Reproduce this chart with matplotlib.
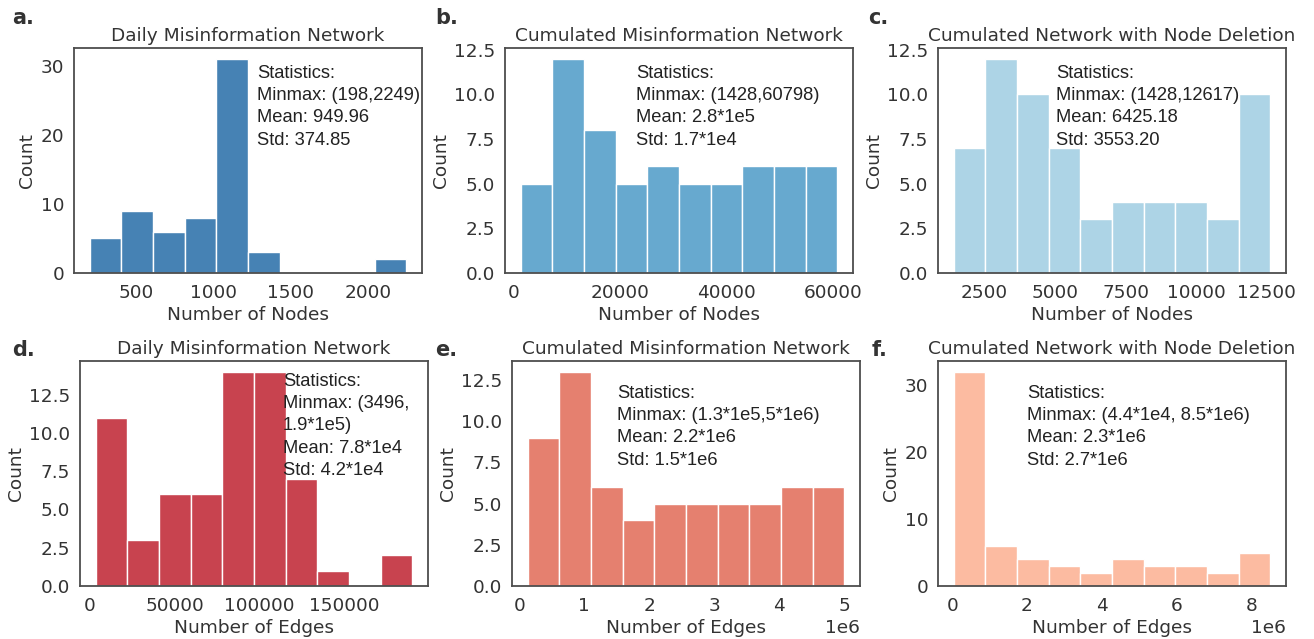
import numpy as np
import matplotlib.pyplot as plt

# histogram counts (10 equal-width bins between min and max)
nodes_daily = [5, 9, 6, 8, 31, 3, 0, 0, 0, 2]
nodes_cum = [5, 12, 8, 5, 6, 5, 5, 6, 6, 6]
nodes_del = [7, 12, 10, 7, 3, 4, 4, 4, 3, 10]
edges_daily = [11, 3, 6, 6, 14, 14, 7, 1, 0, 2]
edges_cum = [9, 13, 6, 4, 5, 5, 5, 5, 6, 6]
edges_del = [32, 6, 4, 3, 2, 4, 3, 3, 2, 5]

ranges = [(198, 2249), (1428, 60798), (1428, 12617),
          (3496, 190000), (1.3e5, 5e6), (4.4e4, 8.5e6)]

titles = ['Daily Misinformation Network', 'Cumulated Misinformation Network',
          'Cumulated Network with Node Deletion'] * 2
xlabels = ['Number of Nodes'] * 3 + ['Number of Edges'] * 3
stats = [
    'Statistics:\nMinmax: (198,2249)\nMean: 949.96\nStd: 374.85',
    'Statistics:\nMinmax: (1428,60798)\nMean: 2.8*1e5\nStd: 1.7*1e4',
    'Statistics:\nMinmax: (1428,12617)\nMean: 6425.18\nStd: 3553.20',
    'Statistics:\nMinmax: (3496,\n1.9*1e5)\nMean: 7.8*1e4\nStd: 4.2*1e4',
    'Statistics:\nMinmax: (1.3*1e5,5*1e6)\nMean: 2.2*1e6\nStd: 1.5*1e6',
    'Statistics:\nMinmax: (4.4*1e4, 8.5*1e6)\nMean: 2.3*1e6\nStd: 2.7*1e6',
]
panel = ['a.', 'b.', 'c.', 'd.', 'e.', 'f.']
colors = ['#4682b4', '#67a9cf', '#add4e6', '#c8434f', '#e5806f', '#fcbba1']
stat_pos = [(0.526, 0.924), (0.376, 0.924), (0.339, 0.924),
            (0.583, 0.947), (0.302, 0.893), (0.256, 0.893)]
counts = [nodes_daily, nodes_cum, nodes_del, edges_daily, edges_cum, edges_del]

# axes boxes in pixels: left, top
W, H = 1314, 639
boxes = [(74, 48), (505, 48), (938, 48), (80, 361), (512, 361), (938, 361)]
label_pos = [(12, 18), (435, 18), (868, 18), (12, 350), (435, 350), (872, 350)]

plt.rcParams['font.family'] = 'DejaVu Sans'
fig = plt.figure(figsize=(W / 100, H / 100), dpi=100)

fs = 13.3
for i in range(6):
    l, t = boxes[i]
    ax = fig.add_axes([l / W, 1 - (t + 225) / H, 348 / W, 225 / H])
    lo, hi = ranges[i]
    bins = np.linspace(lo, hi, 11)
    ax.hist(bins[:-1], bins=bins, weights=counts[i], color=colors[i],
            edgecolor='white', linewidth=1)
    ax.set_title(titles[i], fontsize=fs, color='#333333', pad=5)
    ax.set_xlabel(xlabels[i], fontsize=fs, color='#333333', labelpad=3)
    ax.set_ylabel('Count', fontsize=fs, color='#333333', labelpad=3)
    ax.tick_params(axis='x', length=0, labelsize=fs, labelcolor='#333333', pad=8)
    ax.tick_params(axis='y', length=0, labelsize=fs, labelcolor='#333333', pad=7)
    ax.xaxis.get_offset_text().set_fontsize(fs)
    ax.xaxis.get_offset_text().set_color('#333333')
    for s in ax.spines.values():
        s.set_color('#4d4d4d')
        s.set_linewidth(1.3)
    sx, sy = stat_pos[i]
    ax.text(sx, sy, stats[i], transform=ax.transAxes, va='top', ha='left',
            fontsize=13.2, family='Liberation Sans', linespacing=1.4,
            color='#222222')
    fig.text(label_pos[i][0] / W, 1 - label_pos[i][1] / H, panel[i],
             fontsize=15, fontweight='bold', va='center', ha='left',
             color='#333333')

# tick locations shown on the daily edges panel
fig.axes[3].set_xticks([0, 50000, 100000, 150000])

fig.savefig('out.png', dpi=100, facecolor='white')
